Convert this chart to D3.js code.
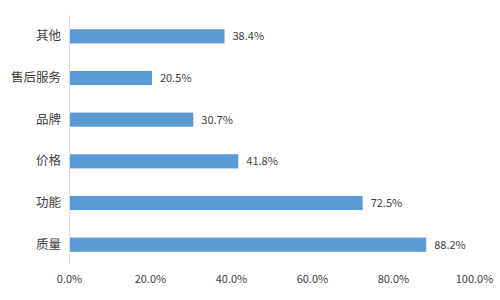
<!DOCTYPE html>
<html>
<head>
<meta charset="utf-8">
<script src="https://cdn.jsdelivr.net/npm/d3@7"></script>
<style>
body { margin: 0; background: #fff; }
text { font-family: "Microsoft YaHei", "Noto Sans CJK SC", sans-serif; fill: #404040; }
</style>
</head>
<body>
<svg id="chart" width="500" height="300"></svg>
<script>
// categories, top to bottom
var categories = ['其他', '售后服务', '品牌', '价格', '功能', '质量'];
var values = [38.4, 20.5, 30.7, 41.8, 72.5, 88.2];
var ticks = [0, 20, 40, 60, 80, 100];

var svg = d3.select('#chart');
var plotLeft = 69, plotRight = 474, plotTop = 15.5, plotBottom = 265.5;

var x = d3.scaleLinear().domain([0, 100]).range([plotLeft, plotRight]);
var y = d3.scaleBand().domain(categories).range([plotTop, plotBottom])
	.paddingInner(0.66).paddingOuter(0.33);

// bars
svg.selectAll('rect.bar')
	.data(values)
	.enter()
	.append('rect')
	.attr('class', 'bar')
	.attr('x', x(0))
	.attr('y', function(d, i) { return y(categories[i]); })
	.attr('width', function(d) { return x(d) - x(0); })
	.attr('height', y.bandwidth())
	.attr('fill', '#5b9bd5');

// value labels
svg.selectAll('text.val')
	.data(values)
	.enter()
	.append('text')
	.attr('class', 'val')
	.attr('x', function(d) { return x(d) + 8; })
	.attr('y', function(d, i) { return y(categories[i]) + y.bandwidth() / 2; })
	.attr('dy', '0.35em')
	.style('font-size', '11px')
	.text(function(d) { return d.toFixed(1) + '%'; });

// category axis
var yAxis = svg.append('g')
	.attr('transform', 'translate(' + plotLeft + ',0)')
	.call(d3.axisLeft(y).tickSize(0).tickPadding(8));
yAxis.select('.domain').attr('stroke', '#d9d9d9').attr('d', 'M0.5,' + plotTop + 'V' + (plotBottom - 2));
yAxis.selectAll('text').style('font-size', '12.5px').attr('fill', '#404040');

// value axis (labels only)
var xAxis = svg.append('g')
	.attr('transform', 'translate(0,' + plotBottom + ')')
	.call(d3.axisBottom(x).tickValues(ticks).tickSize(0).tickPadding(10)
		.tickFormat(function(d) { return d.toFixed(1) + '%'; }));
xAxis.select('.domain').remove();
xAxis.selectAll('text').style('font-size', '11px').attr('fill', '#595959');
</script>
</body>
</html>
